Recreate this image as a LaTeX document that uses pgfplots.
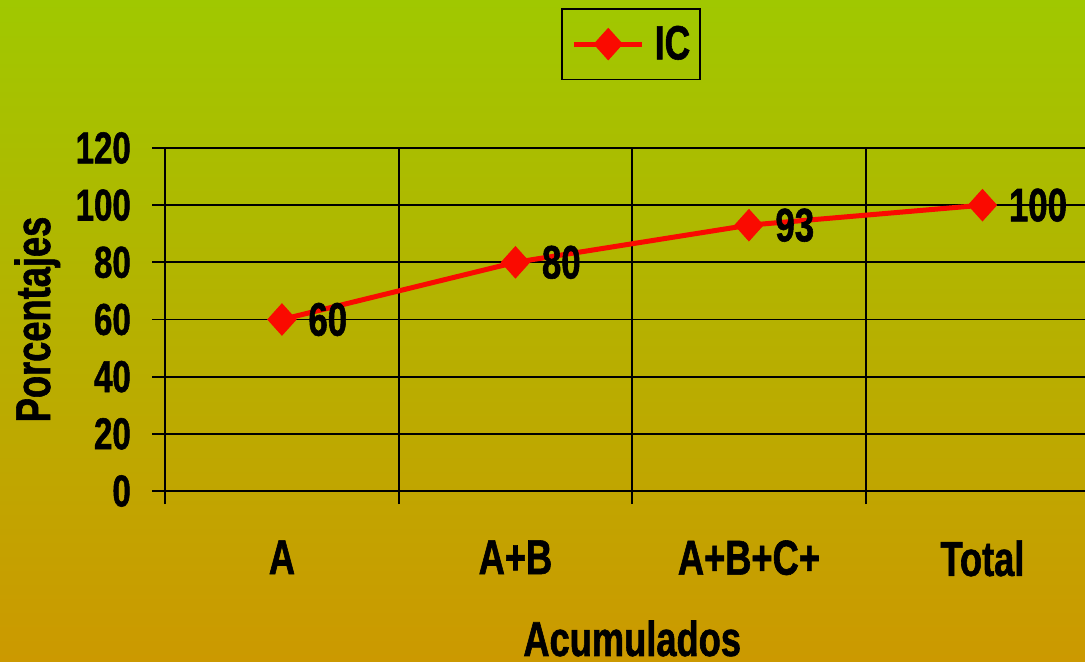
\documentclass[border=0pt]{standalone}
\usepackage{fontspec}
\setmainfont{Liberation Sans}[FakeStretch=0.74, BoldFeatures={FakeBold=1.2}]
\usepackage{pgfplots}
\pgfplotsset{compat=1.18}
\definecolor{bgtop}{RGB}{160,200,0}
\definecolor{bgbot}{RGB}{204,153,0}
\definecolor{icred}{RGB}{250,10,0}
\newcommand\cf[1]{\bfseries\fontsize{#1}{#1}\selectfont}
\begin{document}
\begin{tikzpicture}
\useasboundingbox (0,0) rectangle (542.5pt,331pt);
\shade[top color=bgtop,bottom color=bgbot] (0,0) rectangle (542.5pt,331pt);
\clip (0,0) rectangle (542.5pt,331pt);
\begin{axis}[
 at={(82.6pt,85.5pt)}, anchor=south west,
 scale only axis, width=467pt, height=171.5pt,
 xmin=-0.5, xmax=3.5, ymin=0, ymax=120,
 axis line style={black, line width=0.9pt},
 xtick={-0.5,0.5,1.5,2.5,3.5}, xticklabels={,,,,},
 ytick={0,20,...,120},
 grid=major, major grid style={black,line width=0.9pt},
 tick align=outside, tick pos=left, major tick length=6.5pt,
 tick style={black,line width=0.9pt},
 extra x ticks={0,1,2,3},
 extra x tick labels={A,A+B,A+B+C+,Total},
 extra x tick style={grid=none, major tick length=0pt},
 /pgf/number format/assume math mode=true,
 yticklabel style={font=\cf{22.3}, inner sep=0pt, anchor=east, xshift=-10.5pt},
 xticklabel style={font=\cf{24.5}, inner sep=0pt, anchor=north, yshift=-24.5pt},
 xlabel={Acumulados}, ylabel={Porcentajes},
 xlabel style={font=\cf{24.5}, at={(axis description cs:0.5,-0.4810)}, anchor=base, inner sep=0pt},
 ylabel style={font=\cf{24.5}, at={(axis description cs:-0.1233,0.5)}, anchor=base, inner sep=0pt},
 legend style={at={(axis description cs:0.4987,1.408)}, anchor=north, draw=black, line width=0.8pt, fill=none, font=\cf{24}, inner xsep=5pt, inner ysep=8.5pt, nodes={inner sep=0pt}, column sep=5pt},
 legend image code/.code={\draw[#1, mark repeat=2, mark phase=2] plot coordinates {(0pt,0pt)(17pt,0pt)(34pt,0pt)};},
 nodes near coords, every node near coord/.append style={font=\cf{23.5}, anchor=west, inner sep=0pt, xshift=13pt, text=black},
]
\addplot[icred, line width=2.5pt, mark=diamond*, mark size=7.8pt, mark options={fill=icred, draw=icred, line width=0.5pt, xscale=1.2}] coordinates {(0,60)(1,80)(2,93)(3,100)};
\addlegendentry{IC}
\end{axis}
\end{tikzpicture}
\end{document}
